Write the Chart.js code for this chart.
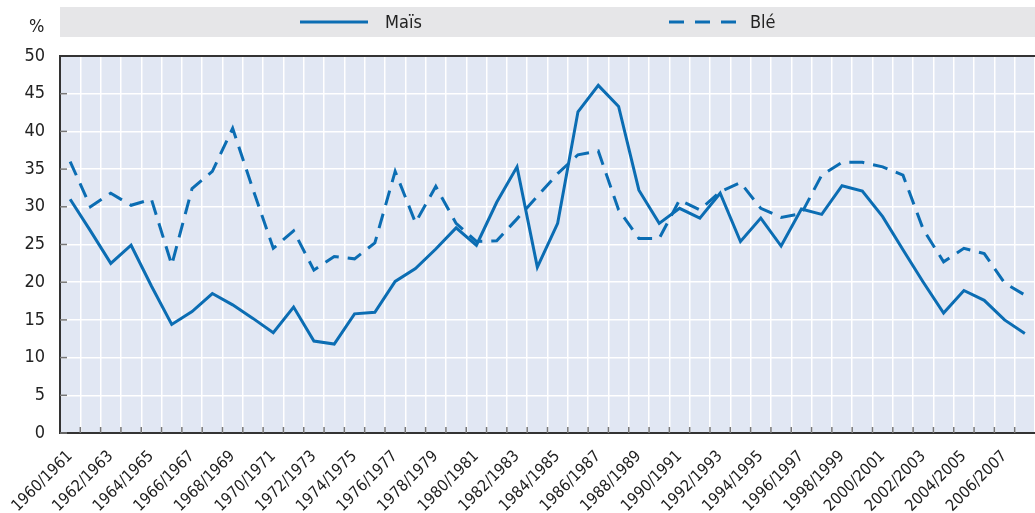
<!DOCTYPE html>
<html>
<head>
<meta charset="utf-8">
<script src="https://cdn.jsdelivr.net/npm/chart.js@4.4.1/dist/chart.umd.min.js"></script>
<style>
  html, body { margin: 0; padding: 0; background: #fff; }
  #wrap { position: relative; width: 1035px; height: 513px; }
</style>
</head>
<body>
<div id="wrap"><canvas id="chart" width="1035" height="513"></canvas></div>
<script>
// campagnes 1960/1961 .. 2007/2008
const years = [];
for (let y = 1960; y <= 2007; y++) years.push(y + '/' + (y + 1));

const mais = [31, 26.8, 22.5, 24.9, 19.5, 14.4, 16.1, 18.5, 17, 15.2,
  13.3, 16.7, 12.2, 11.8, 15.8, 16, 20.1, 21.8, 24.4, 27.2,
  24.9, 30.6, 35.3, 22, 27.8, 42.6, 46.1, 43.3, 32.2, 27.8,
  29.8, 28.5, 31.8, 25.4, 28.5, 24.8, 29.7, 29, 32.8, 32.1,
  28.7, 24.3, 20, 15.9, 18.9, 17.6, 15, 13.2];

const ble = [36, 30, 31.8, 30.2, 31, 22.3, 32.4, 34.7, 40.4, 32.3,
  24.5, 26.8, 21.6, 23.4, 23.1, 25.2, 34.7, 27.9, 32.7, 27.8,
  25.4, 25.5, 28.4, 31.4, 34.4, 36.9, 37.4, 29.6, 25.8, 25.8,
  30.9, 29.6, 32, 33.2, 29.8, 28.6, 29.1, 34.2, 35.9, 35.9,
  35.3, 34.2, 27, 22.7, 24.5, 23.8, 19.9, 18.3];

const yTicks = [0, 5, 10, 15, 20, 25, 30, 35, 40, 45, 50];

const blue = '#0b6db3';
const font = '"Liberation Sans Narrow", "DejaVu Sans Condensed", "Liberation Sans", sans-serif';

const decor = {
  id: 'decor',
  beforeDraw(chart) {
    const { ctx, chartArea: a } = chart;
    ctx.save();
    ctx.fillStyle = '#e1e7f3';
    ctx.fillRect(a.left, a.top, a.right - a.left, a.bottom - a.top);
    ctx.restore();
  },
  beforeDatasetsDraw(chart) {
    const { ctx, chartArea: a, scales } = chart;
    ctx.save();
    ctx.strokeStyle = '#777';
    ctx.lineWidth = 1.5;
    // petites graduations intérieures
    yTicks.forEach(v => {
      const y = scales.y.getPixelForValue(v);
      ctx.beginPath();
      ctx.moveTo(a.left, y);
      ctx.lineTo(a.left + 7, y);
      ctx.stroke();
    });
    for (let i = 1; i < years.length; i++) {
      const x = (scales.x.getPixelForValue(i - 1) + scales.x.getPixelForValue(i)) / 2;
      ctx.beginPath();
      ctx.moveTo(x, a.bottom);
      ctx.lineTo(x, a.bottom - 6);
      ctx.stroke();
    }
    // bord supérieur
    ctx.strokeStyle = '#333';
    ctx.lineWidth = 2;
    ctx.beginPath();
    ctx.moveTo(a.left, a.top);
    ctx.lineTo(a.right, a.top);
    ctx.stroke();
    ctx.restore();
  },
  afterDraw(chart) {
    const { ctx, chartArea: a } = chart;
    ctx.save();
    // légende
    ctx.fillStyle = '#e6e6e8';
    ctx.fillRect(a.left, 7, a.right - a.left, 30);
    ctx.strokeStyle = blue;
    ctx.lineWidth = 3;
    ctx.beginPath();
    ctx.moveTo(300, 22);
    ctx.lineTo(368, 22);
    ctx.stroke();
    ctx.setLineDash([15, 11]);
    ctx.beginPath();
    ctx.moveTo(669, 22);
    ctx.lineTo(736, 22);
    ctx.stroke();
    ctx.setLineDash([]);
    ctx.fillStyle = '#222';
    ctx.font = '18px ' + font;
    ctx.textBaseline = 'middle';
    ctx.fillText('Maïs', 385, 23);
    ctx.fillText('Blé', 750, 23);
    ctx.fillText('%', 29, 27);
    ctx.restore();
  }
};

new Chart(document.getElementById('chart'), {
  type: 'line',
  data: {
    labels: years,
    datasets: [{
      label: 'Maïs',
      data: mais,
      borderColor: blue,
      borderWidth: 3,
      pointRadius: 0,
      tension: 0
    }, {
      label: 'Blé',
      data: ble,
      borderColor: blue,
      borderWidth: 3,
      borderDash: [15, 9],
      pointRadius: 0,
      tension: 0
    }]
  },
  options: {
    responsive: false,
    animation: false,
    layout: { padding: { top: 56, left: 0, right: 0, bottom: 0 } },
    plugins: {
      legend: { display: false },
      tooltip: { enabled: false }
    },
    scales: {
      x: {
        offset: true,
        grid: { offset: true, color: '#ffffff', lineWidth: 1.5, drawTicks: false },
        border: { color: '#333', width: 2 },
        ticks: {
          autoSkip: false,
          maxRotation: 45,
          minRotation: 45,
          padding: 14,
          color: '#222',
          font: { family: font, size: 16 },
          callback: (v, i) => i % 2 === 0 ? years[i] : ''
        },
        afterFit(scale) {
          scale.height = 80;
          scale.paddingLeft = 0;
          scale.paddingRight = 0;
        }
      },
      y: {
        min: 0,
        max: 50,
        afterBuildTicks(scale) {
          scale.ticks = yTicks.map(v => ({ value: v }));
        },
        grid: { color: '#ffffff', lineWidth: 1.5, drawTicks: false },
        border: { color: '#333', width: 2 },
        ticks: {
          padding: 15,
          color: '#222',
          font: { family: font, size: 18 }
        },
        afterFit(scale) {
          scale.width = 60;
        }
      }
    }
  },
  plugins: [decor]
});
</script>
</body>
</html>
